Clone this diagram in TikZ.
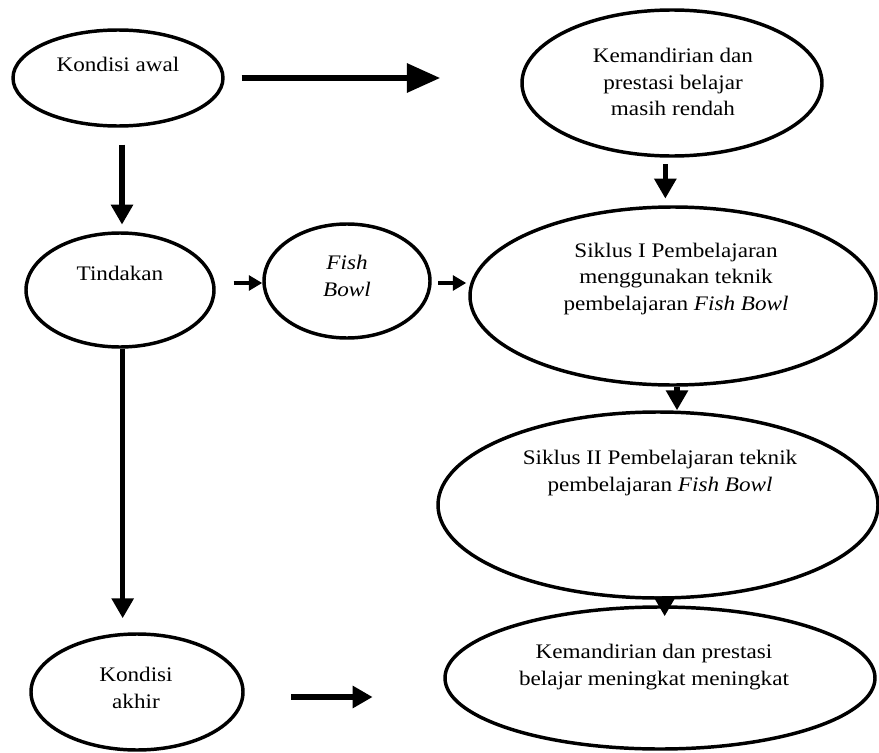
\documentclass[tikz,border=0pt]{standalone}
\usepackage{fontspec}
\setmainfont{Liberation Serif}[FakeStretch=1.12]
\usetikzlibrary{shapes.geometric,arrows.meta}
\begin{document}
\begin{tikzpicture}[x=0.75pt,y=-0.75pt,
  oval/.style={draw,ellipse,line width=2.6pt,inner sep=0pt},
  txt/.style={align=center,font=\fontsize{15.5pt}{20pt}\selectfont,inner sep=0pt},
  bigarr/.style={line width=4.5pt,-{Triangle[length=25pt,width=21pt]}},
  midarr/.style={line width=4.2pt,-{Triangle[length=15pt,width=16pt]}},
  smallarr/.style={line width=3.5pt,-{Triangle[length=10pt,width=11pt]}}]
\useasboundingbox (0,0) rectangle (879,753);
% ellipses
\node[oval,minimum width=210*0.75pt,minimum height=96*0.75pt] (awal) at (118,78) {};
\node[oval,minimum width=300*0.75pt,minimum height=146*0.75pt] (kem) at (672,83) {};
\node[oval,minimum width=406*0.75pt,minimum height=178*0.75pt] (s1) at (673,296) {};
\node[oval,minimum width=188*0.75pt,minimum height=114*0.75pt] (tind) at (120,290) {};
\node[oval,minimum width=166*0.75pt,minimum height=114*0.75pt] (fish) at (347,281) {};
\node[oval,minimum width=440*0.75pt,minimum height=186*0.75pt] (s2) at (658,505) {};
\node[oval,minimum width=430*0.75pt,minimum height=142*0.75pt] (fin) at (660,678) {};
\node[oval,minimum width=212*0.75pt,minimum height=116*0.75pt] (akhir) at (137,692) {};
% texts
\node[txt] (tawal) at (118,64) {Kondisi awal};
\node[txt] (tkem) at (673,82) {Kemandirian dan\\prestasi belajar\\masih rendah};
\node[txt] (ts1) at (676,279) {Siklus I Pembelajaran\\menggunakan teknik\\pembelajaran \textit{Fish Bowl}};
\node[txt] (ttind) at (120,273) {Tindakan};
\node[txt] (tfish) at (347,276) {\textit{Fish}\\\textit{Bowl}};
\node[txt] (ts2) at (660,473) {Siklus II Pembelajaran teknik\\pembelajaran \textit{Fish Bowl}};
\node[txt] (tfin) at (654,667) {Kemandirian dan prestasi\\belajar meningkat meningkat};
\node[txt] (takhir) at (136,688) {Kondisi\\akhir};
% connectors
\draw[bigarr,shorten <=12.75pt,shorten >=60pt] (awal.east) -- (awal.east -| kem.west);
\draw[midarr,shorten <=12.75pt,shorten >=5pt] ([xshift=3pt]awal.south) -- ([xshift=3pt]awal.south |- tind.north);
\draw[midarr,shorten <=5pt,shorten >=5pt] ([xshift=-5pt]kem.south) -- ([xshift=-5pt]kem.south |- s1.north);
\draw[smallarr,shorten <=13.5pt] ([yshift=-1.5pt]tind.east |- fish.west) -- ([yshift=-1.5pt]fish.west);
\draw[smallarr,shorten <=5pt,shorten >=1.5pt] ([yshift=-1.5pt]fish.east) -- ([yshift=-1.5pt]fish.east -| s1.west);
\draw[midarr] ([xshift=3pt]s1.south) -- ([xshift=3pt]s1.south |- s2.north);
\draw[midarr] ([xshift=5pt]s2.south) -- ([xshift=5pt,yshift=-8.25pt]s2.south |- fin.north);
\draw[midarr,shorten >=10.5pt] ([xshift=2pt]tind.south) -- ([xshift=2pt]tind.south |- akhir.north);
\draw[midarr,shorten <=35pt,shorten >=53pt] ([yshift=-3.75pt]akhir.east) -- ([yshift=-3.75pt]akhir.east -| fin.west);
\end{tikzpicture}
\end{document}
